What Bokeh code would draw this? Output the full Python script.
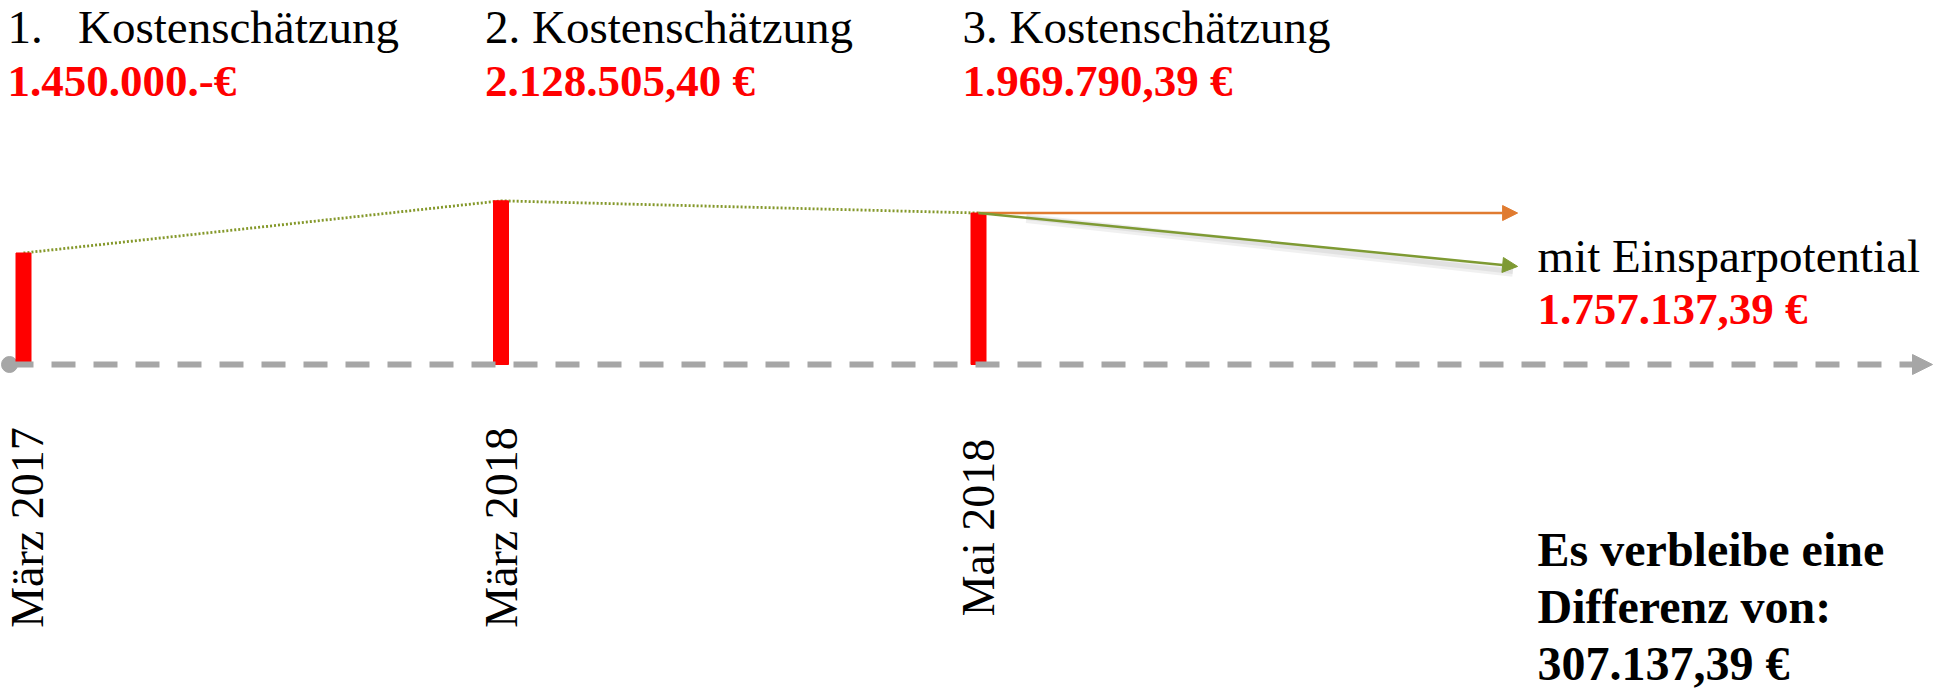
import math
from bokeh.plotting import figure
from bokeh.models import Range1d, Arrow, NormalHead
from bokeh.core.properties import value
from bokeh.embed import file_html
from bokeh.resources import INLINE

# ---------------- data ----------------
stage_titles = ["1.\u00a0\u00a0\u00a0Kostenschätzung", "2. Kostenschätzung", "3. Kostenschätzung"]
amount_labels = ["1.450.000.-€", "2.128.505,40 €", "1.969.790,39 €"]
dates = ["März 2017", "März 2018", "Mai 2018"]
costs = [1450000.00, 2128505.40, 1969790.39]
savings_title = "mit Einsparpotential"
savings_amount = "1.757.137,39 €"
difference_lines = ["Es verbleibe eine", "Differenz von:", "307.137,39 €"]
# trend arrows from the 3rd estimate: without savings (orange), with savings (green, level)
trend_end = [1969790.39, 1275000.0]
trend_colors = ["#E07B30", "#7E9A33"]

# ---------------- layout ----------------
W, H = 1934, 693
PX_PER_X = 477.5          # pixels per timeline step
X0 = 23                   # pixel position of first stage
PX_PER_EUR = 76.9e-6      # pixels per euro
Y0 = 329                  # pixel height of timeline above bottom
x_pos = [0, 1, 2]
x_trend = 3.129

FONT = value("Liberation Serif")

p = figure(width=W, height=H,
           x_range=Range1d(-X0 / PX_PER_X, (W - X0) / PX_PER_X),
           y_range=Range1d(-Y0 / PX_PER_EUR, (H - Y0) / PX_PER_EUR),
           x_axis_location=None, y_axis_location=None,
           output_backend="svg", toolbar_location=None,
           min_border=0, title=None)
p.grid.visible = False
p.outline_line_color = None
p.background_fill_color = "white"
p.border_fill_color = "white"
p.extra_y_ranges = {"px": Range1d(0, H)}

# timeline (dashed arrow with a dot at its start)
xs = p.x_range.start + 9 / PX_PER_X
xe = p.x_range.end - 2 / PX_PER_X
p.add_layout(Arrow(x_start=xs, y_start=0, x_end=xe, y_end=0,
                   line_color="#A6A6A6", line_width=6, line_dash="24 18",
                   end=NormalHead(size=20, fill_color="#A6A6A6", line_color="#A6A6A6", line_width=1)))
p.scatter([xs], [0], size=16, color="#A6A6A6")

# soft shadow under the green arrow
p.line([x_pos[2] + 0.1, x_trend - 0.01], [costs[2] - 70000, trend_end[1] - 75000],
       line_color="#000000", line_alpha=0.06, line_width=9)
p.line([x_pos[2] + 0.1, x_trend - 0.01], [costs[2] - 60000, trend_end[1] - 65000],
       line_color="#000000", line_alpha=0.06, line_width=5)

# trend arrows
for end_val, col in zip(trend_end, trend_colors):
    p.add_layout(Arrow(x_start=x_pos[2], y_start=costs[2], x_end=x_trend, y_end=end_val,
                       line_color=col, line_width=2.5,
                       end=NormalHead(size=15, fill_color=col, line_color=col, line_width=1)))

# dotted connection of the estimates
p.line(x_pos, costs, line_color="#84982A", line_width=2.8, line_dash="2 2")

# bars
p.vbar(x=x_pos, top=costs, bottom=0, width=15 / PX_PER_X, color="#FF0000")

# stage titles and amounts
p.text(x=x_pos, y=[H - 26] * 3, text=stage_titles, y_range_name="px", x_offset=-16,
       text_font=FONT, text_font_size="47px", text_color="black",
       text_align="left", text_baseline="alphabetic")
p.text(x=x_pos, y=[H - 80] * 3, text=amount_labels, y_range_name="px", x_offset=-16,
       text_font=FONT, text_font_size="45px", text_font_style="bold", text_color="#FF0000",
       text_align="left", text_baseline="alphabetic")

# date labels (vertical)
p.text(x=x_pos, y=[H - 527] * 3, text=dates, y_range_name="px", angle=math.pi / 2,
       x_offset=[4, 0, 0],
       text_font=FONT, text_font_size="46px", text_color="black",
       text_align="center", text_baseline="middle")

# savings annotation
p.text(x=[x_trend], y=[H - 255], text=[savings_title], y_range_name="px", x_offset=20,
       text_font=FONT, text_font_size="47px", text_color="black",
       text_align="left", text_baseline="alphabetic")
p.text(x=[x_trend], y=[H - 308], text=[savings_amount], y_range_name="px", x_offset=20,
       text_font=FONT, text_font_size="45px", text_font_style="bold", text_color="#FF0000",
       text_align="left", text_baseline="alphabetic")

# remaining difference
p.text(x=[x_trend] * 3, y=[H - 549, H - 606, H - 663], text=difference_lines, y_range_name="px",
       x_offset=20, text_font=FONT, text_font_size="48px", text_font_style="bold",
       text_color="black", text_align="left", text_baseline="alphabetic")

open("out.html", "w").write(file_html(p, INLINE))
